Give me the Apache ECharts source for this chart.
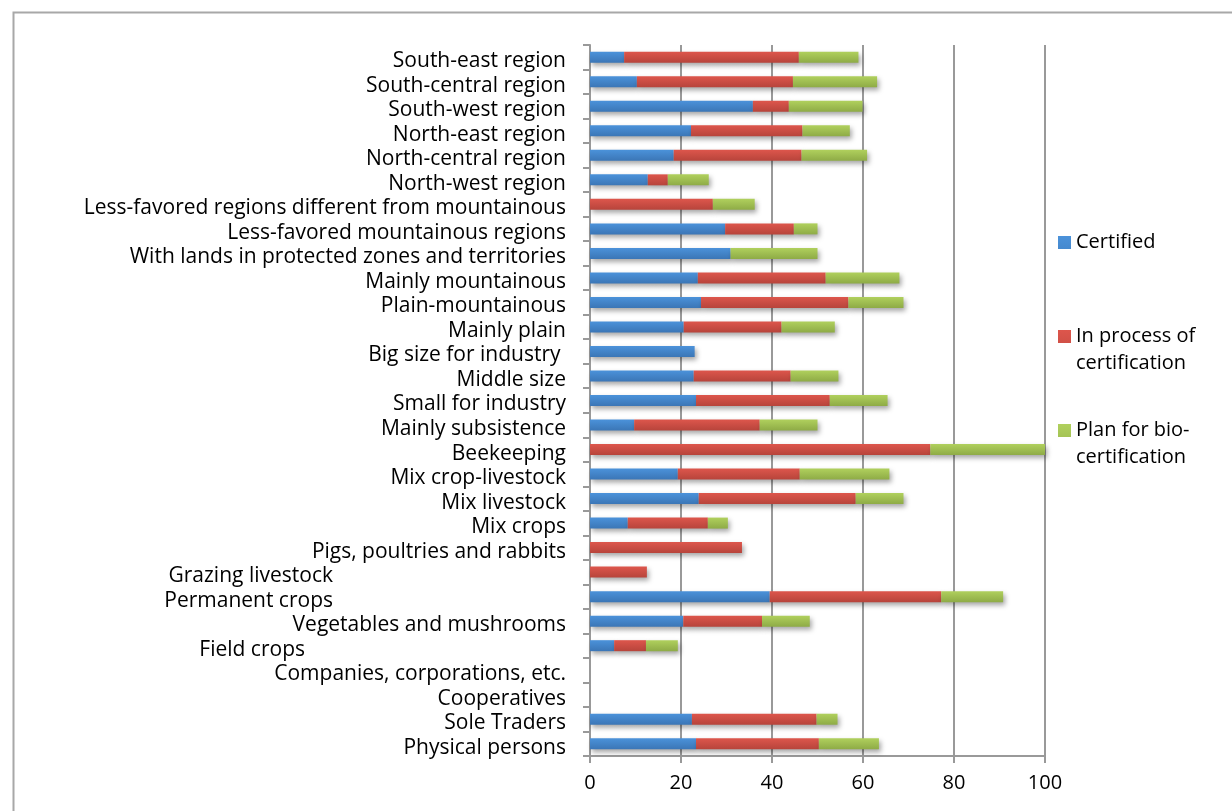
<!DOCTYPE html>
<html>
<head>
<meta charset="utf-8">
<script src="https://cdn.jsdelivr.net/npm/echarts@6/dist/echarts.min.js"></script>
<style>
html,body{margin:0;padding:0;background:#fff;}
#chart{width:1232px;height:811px;}
</style>
</head>
<body>
<div id="chart"></div>
<script>
// Categories listed bottom to top
const categories = [
  'Physical persons',
  'Sole Traders',
  'Cooperatives',
  'Companies, corporations, etc.',
  'Field crops',
  'Vegetables and mushrooms',
  'Permanent crops',
  'Grazing livestock',
  'Pigs, poultries and rabbits',
  'Mix crops',
  'Mix livestock',
  'Mix crop-livestock',
  'Beekeeping',
  'Mainly subsistence',
  'Small for industry',
  'Middle size',
  'Big size for industry ',
  'Mainly plain',
  'Plain-mountainous',
  'Mainly mountainous',
  'With lands in protected zones and territories',
  'Less-favored mountainous regions',
  'Less-favored regions different from mountainous',
  'North-west region',
  'North-central region',
  'North-east region',
  'South-west region',
  'South-central region',
  'South-east region'
];
const certified = [23.3, 22.4, 0, 0, 5.3, 20.5, 39.5, 0, 0, 8.3, 23.9, 19.3, 0, 9.7, 23.3, 22.8, 23.0, 20.6, 24.4, 23.7, 30.9, 29.7, 0, 12.7, 18.4, 22.2, 35.8, 10.3, 7.5];
const inProcess = [27.0, 27.4, 0, 0, 7.0, 17.3, 37.7, 12.5, 33.4, 17.6, 34.5, 26.8, 74.8, 27.6, 29.4, 21.3, 0, 21.5, 32.4, 28.1, 0, 15.1, 27.0, 4.4, 28.1, 24.5, 7.9, 34.3, 38.4];
const planBio = [13.2, 4.6, 0, 0, 7.0, 10.5, 13.6, 0, 0, 4.4, 10.5, 19.7, 25.2, 12.7, 12.7, 10.5, 0, 11.7, 12.1, 16.2, 19.1, 5.2, 9.2, 9.0, 14.4, 10.4, 16.2, 18.5, 13.1];
const seriesNames = ['Certified', 'In process of certification', 'Plan for bio-certification'];
const legendLabels = ['Certified\n', 'In process of\ncertification', 'Plan for bio-\ncertification'];
const xTicks = [0, 20, 40, 60, 80, 100];

// label offsets (style only)
const labelShift = {'Grazing livestock': 233, 'Permanent crops': 233, 'Field crops': 261};

const FONT = 'Open Sans';
const FS = 21;
function grad(top, bottom) {
  return new echarts.graphic.LinearGradient(0, 0, 0, 1, [
    {offset: 0, color: top}, {offset: 1, color: bottom}
  ]);
}
const colors = [
  grad('#4b92da', '#3b76b6'),
  grad('#dd564c', '#b7443b'),
  grad('#b0d05d', '#8eab46')
];
const dataSets = [certified, inProcess, planBio];

const chart = echarts.init(document.getElementById('chart'), null, {renderer: 'canvas'});
const legendIcon = 'path://M0,0h13v13h-13z M0,39.99h0.01v0.01h-0.01z';

const option = {
  animation: false,
  backgroundColor: '#fff',
  textStyle: {fontFamily: FONT},
  graphic: [{
    type: 'rect', left: 11, top: 10, silent: true,
    shape: {width: 1240, height: 900},
    style: {fill: 'none', stroke: '#a8a8a8', lineWidth: 2}
  }],
  grid: {left: 590, right: 187, top: 45, bottom: 55, containLabel: false},
  legend: {
    orient: 'vertical',
    left: 1058,
    top: 229,
    padding: 0,
    itemWidth: 13,
    itemHeight: 40,
    itemGap: 40,
    selectedMode: false,
    data: seriesNames.map(n => ({name: n, icon: legendIcon})),
    formatter: function (name) { return legendLabels[seriesNames.indexOf(name)]; },
    textStyle: {fontFamily: FONT, fontSize: 20, lineHeight: 27, color: '#000'}
  },
  xAxis: {
    type: 'value',
    min: xTicks[0],
    max: xTicks[xTicks.length - 1],
    interval: xTicks[1] - xTicks[0],
    axisLine: {show: true, lineStyle: {color: '#999', width: 2}},
    axisTick: {show: true, length: 7, lineStyle: {color: '#999', width: 2}},
    splitLine: {show: true, lineStyle: {color: '#999', width: 2}},
    axisLabel: {fontFamily: FONT, fontSize: 20, color: '#000', margin: 17}
  },
  yAxis: {
    type: 'category',
    data: categories,
    axisLine: {show: true, lineStyle: {color: '#999', width: 2}},
    axisTick: {show: true, length: 7, lineStyle: {color: '#999', width: 2}},
    axisLabel: {
      fontFamily: FONT, fontSize: FS, color: '#000', margin: 24, interval: 0,
      padding: [8, 0, 0, 0],
      formatter: function (v) {
        const s = labelShift[v];
        return s ? '{s' + s + '|' + v + '}' : v;
      },
      rich: {
        s233: {fontFamily: FONT, fontSize: FS, color: '#000', padding: [0, 233, 0, 0]},
        s261: {fontFamily: FONT, fontSize: FS, color: '#000', padding: [0, 261, 0, 0]}
      }
    }
  },
  series: seriesNames.map((name, i) => ({
    name: name,
    type: 'bar',
    stack: 'total',
    barWidth: 11,
    data: dataSets[i],
    itemStyle: {
      color: colors[i],
      shadowColor: 'rgba(0,0,0,0.35)',
      shadowBlur: 5,
      shadowOffsetX: 2,
      shadowOffsetY: 3
    },
    emphasis: {disabled: true}
  }))
};
chart.setOption(option);
</script>
</body>
</html>
